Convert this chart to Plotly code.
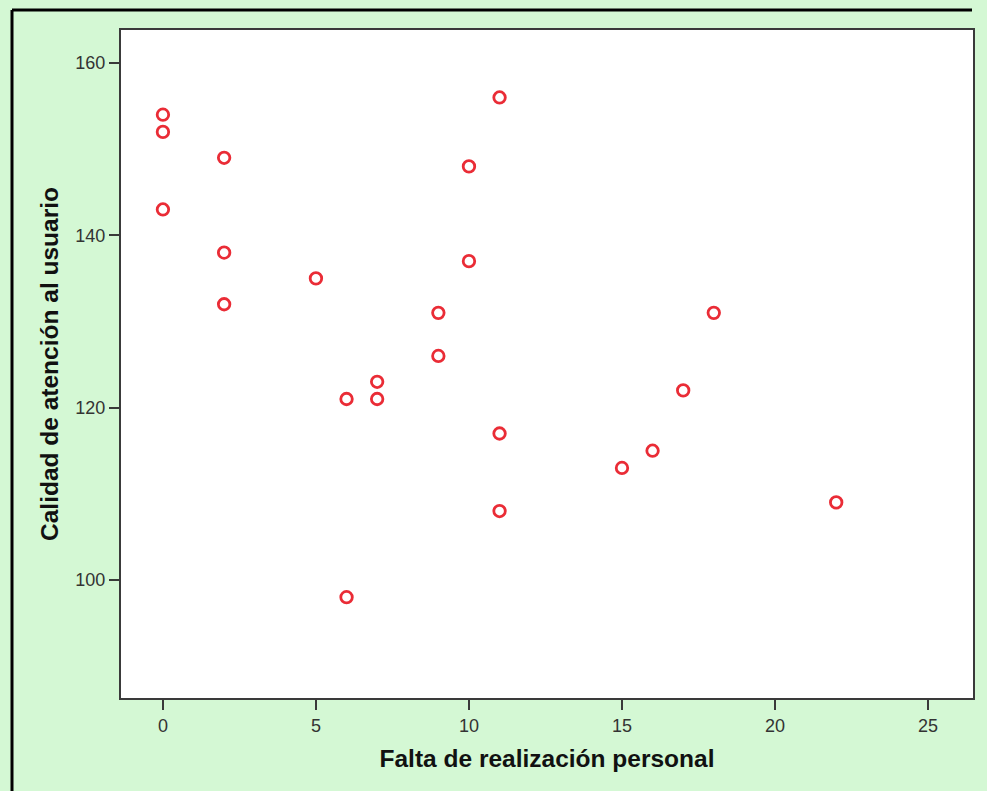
import plotly.graph_objects as go

x_vals = [0, 0, 0, 2, 2, 2, 5, 6, 6, 7, 7, 9, 9, 10, 10, 11, 11, 11, 15, 16, 17, 18, 22]
y_vals = [154, 152, 143, 149, 138, 132, 135, 121, 98, 123, 121, 131, 126, 148, 137, 156, 117, 108, 113, 115, 122, 131, 109]
x_ticks = [0, 5, 10, 15, 20, 25]
y_ticks = [100, 120, 140, 160]
x_title = "Falta de realización personal"
y_title = "Calidad de atención al usuario"

W, H = 987, 791
L, R, T, B = 121, 14, 30, 93
pw, ph = W - L - R, H - T - B

fig = go.Figure()
fig.add_trace(go.Scatter(
    x=x_vals, y=y_vals, mode="markers",
    marker=dict(symbol="circle-open", size=11.5, color="#ea2c36", line=dict(width=2.8, color="#ea2c36")),
    showlegend=False, hoverinfo="x+y",
))

axis_common = dict(
    showgrid=False, zeroline=False, showline=True, linecolor="#3a3a3a", linewidth=2,
    mirror=True, ticks="outside", ticklen=10, tickwidth=2, tickcolor="#3a3a3a",
    tickfont=dict(family="Liberation Sans, Arial", size=18, color="#333333"),
)
fig.update_xaxes(range=[-1.37, 26.47], tickvals=x_ticks, ticktext=[str(v) for v in x_ticks],
                 title=dict(text=x_title, font=dict(family="Liberation Sans, Arial", size=24.5, color="#111111", weight="bold"), standoff=15),
                 **axis_common)
fig.update_yaxes(range=[86.3, 163.83], tickvals=y_ticks, ticktext=[str(v) for v in y_ticks],
                 title=dict(text=y_title, font=dict(family="Liberation Sans, Arial", size=24.5, color="#111111", weight="bold"), standoff=10),
                 **axis_common)

# outer frame: only left and top edges are visible in the picture
fx0 = (12 - L) / pw
fy1 = (H - B - 10) / ph
fig.add_shape(type="line", xref="paper", yref="paper", x0=fx0, x1=fx0, y0=-B / ph, y1=fy1,
              line=dict(color="black", width=3))
fig.add_shape(type="line", xref="paper", yref="paper", x0=fx0, x1=(W - 15 - L) / pw, y0=fy1, y1=fy1,
              line=dict(color="black", width=3))

fig.update_layout(
    width=W, height=H, autosize=False,
    margin=dict(l=L, r=R, t=T, b=B),
    paper_bgcolor="#d4f8d4", plot_bgcolor="white",
)
fig.write_html("out.html")
